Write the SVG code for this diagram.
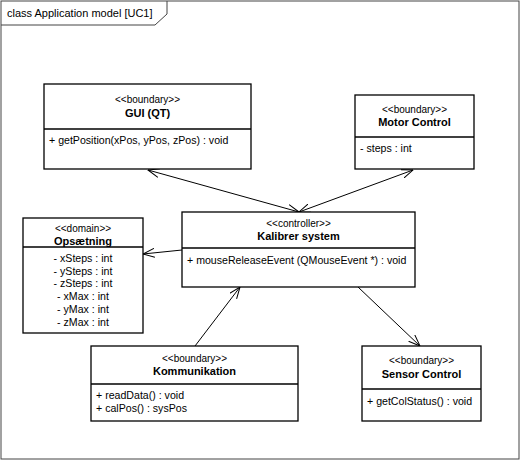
<svg xmlns="http://www.w3.org/2000/svg" width="521" height="461" viewBox="0 0 521 461">
<defs>
<marker id="open" viewBox="0 0 12 10" refX="11.5" refY="5" markerWidth="12" markerHeight="10" markerUnits="userSpaceOnUse" orient="auto-start-reverse">
<path d="M0,0.5 L11.5,5 L0,9.5" fill="none" stroke="#000" stroke-width="1"/>
</marker>
</defs>
<style>
text{font-family:"Liberation Sans",Arial,sans-serif;fill:#000}
.st{font-size:10px;text-anchor:middle}
.nm{font-size:11px;font-weight:bold;text-anchor:middle}
.at{font-size:10.6px}
.ac{font-size:10.6px;text-anchor:middle}
.box{fill:#fff;stroke:#000;stroke-width:1.3}
.div{stroke:#000;stroke-width:1.3}
.con{stroke:#000;stroke-width:1;fill:none}
</style>
<rect x="0" y="0" width="521" height="461" fill="#fff"/>
<g id="frame">
<rect x="1" y="1" width="518" height="458" fill="none" stroke="#444" stroke-width="1"/>
<path d="M1,25 L155,25 L167,14 L167,1" fill="none" stroke="#444" stroke-width="1"/>
<text x="7" y="17" style="font-size:11px">class Application model [UC1]</text>
</g>
<g id="connectors">
<line class="con" x1="148" y1="170" x2="299" y2="212" marker-start="url(#open)" marker-end="url(#open)"/>
<line class="con" x1="413" y1="170" x2="299" y2="212" marker-start="url(#open)" marker-end="url(#open)"/>
<line class="con" x1="182" y1="250" x2="143" y2="254" marker-end="url(#open)"/>
<line class="con" x1="195" y1="346" x2="240" y2="287" marker-end="url(#open)"/>
<line class="con" x1="358" y1="287" x2="420" y2="346" marker-end="url(#open)"/>
</g>
<g id="gui">
<rect class="box" x="44" y="84" width="207" height="85"/>
<line class="div" x1="44" y1="129" x2="251" y2="129"/>
<text class="st" x="147.5" y="103">&lt;&lt;boundary&gt;&gt;</text>
<text class="nm" x="147.5" y="117">GUI (QT)</text>
<text class="at" x="49" y="144">+ getPosition(xPos, yPos, zPos) : void</text>
</g>
<g id="motor">
<rect class="box" x="355" y="95" width="119" height="74"/>
<line class="div" x1="355" y1="137" x2="474" y2="137"/>
<text class="st" x="414.5" y="113">&lt;&lt;boundary&gt;&gt;</text>
<text class="nm" x="414.5" y="126">Motor Control</text>
<text class="at" x="360" y="152">- steps : int</text>
</g>
<g id="kalibrer">
<rect class="box" x="182" y="212" width="233" height="75"/>
<line class="div" x1="182" y1="248" x2="415" y2="248"/>
<text class="st" x="298.5" y="227">&lt;&lt;controller&gt;&gt;</text>
<text class="nm" x="298.5" y="240">Kalibrer system</text>
<text class="at" x="187" y="264">+ mouseReleaseEvent (QMouseEvent *) : void</text>
</g>
<g id="opsaetning">
<rect class="box" x="23" y="218" width="120" height="115"/>
<line class="div" x1="23" y1="247" x2="143" y2="247"/>
<text class="st" x="83" y="232">&lt;&lt;domain&gt;&gt;</text>
<text class="nm" x="83" y="245">Opsætning</text>
<text class="ac" x="83" y="262">- xSteps : int</text>
<text class="ac" x="83" y="275">- ySteps : int</text>
<text class="ac" x="83" y="287">- zSteps : int</text>
<text class="ac" x="83" y="300">- xMax : int</text>
<text class="ac" x="83" y="313">- yMax : int</text>
<text class="ac" x="83" y="326">- zMax : int</text>
</g>
<g id="kommunikation">
<rect class="box" x="91" y="346" width="207" height="75"/>
<line class="div" x1="91" y1="384" x2="298" y2="384"/>
<text class="st" x="194.5" y="362">&lt;&lt;boundary&gt;&gt;</text>
<text class="nm" x="194.5" y="375">Kommunikation</text>
<text class="at" x="96" y="399">+ readData() : void</text>
<text class="at" x="96" y="412">+ calPos() : sysPos</text>
</g>
<g id="sensor">
<rect class="box" x="362" y="346" width="119" height="75"/>
<line class="div" x1="362" y1="389" x2="481" y2="389"/>
<text class="st" x="421.5" y="364">&lt;&lt;boundary&gt;&gt;</text>
<text class="nm" x="421.5" y="378">Sensor Control</text>
<text class="at" x="367" y="405">+ getColStatus() : void</text>
</g>
</svg>
